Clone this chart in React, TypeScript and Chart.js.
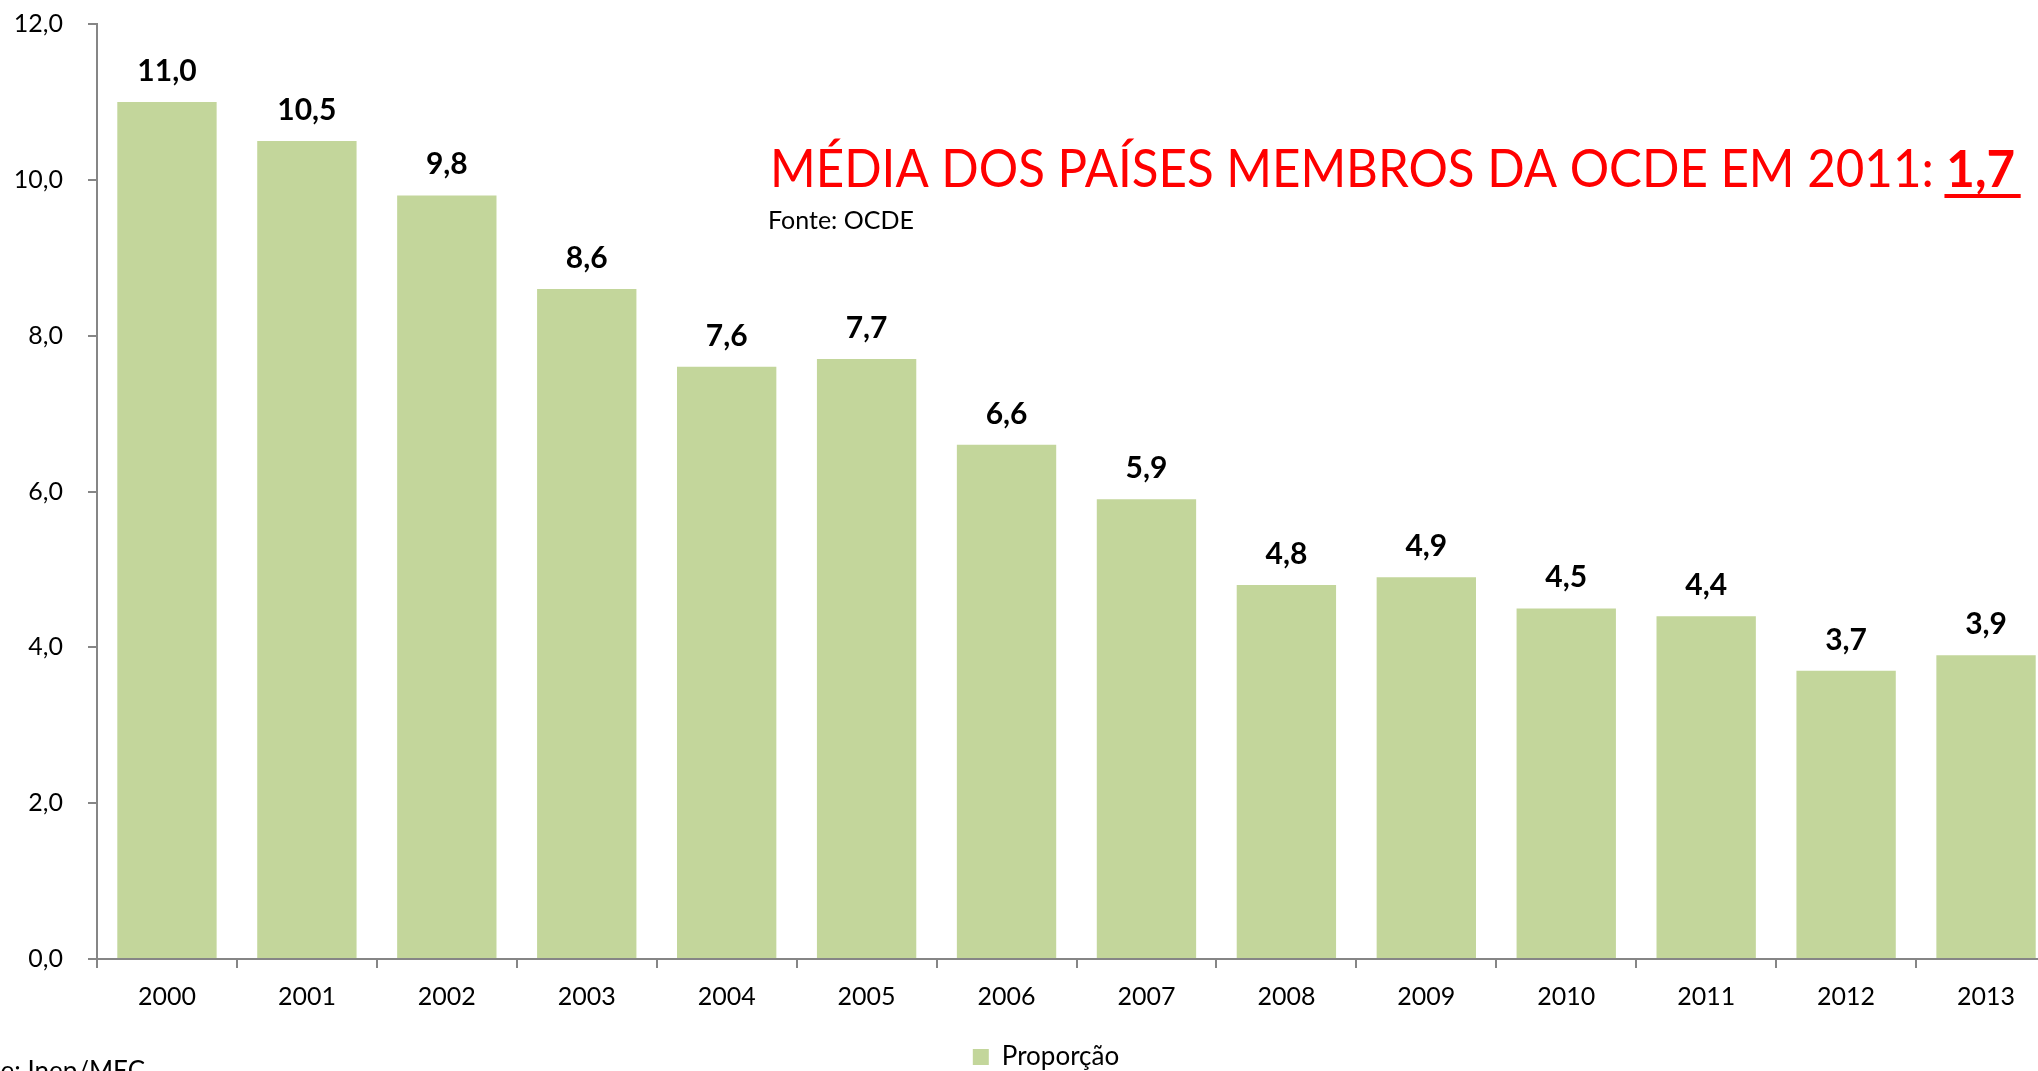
import React, { useEffect, useRef } from 'react';
import { Chart, registerables } from 'chart.js';

Chart.register(...registerables);

const categories = ['2000', '2001', '2002', '2003', '2004', '2005', '2006', '2007', '2008', '2009', '2010', '2011', '2012', '2013'];
const values = [11.0, 10.5, 9.8, 8.6, 7.6, 7.7, 6.6, 5.9, 4.8, 4.9, 4.5, 4.4, 3.7, 3.9];
const seriesLabel = 'Proporção';
const yMin = 0;
const yMax = 12;
const yStep = 2;
const titleMain = 'MÉDIA DOS PAÍSES MEMBROS DA OCDE EM 2011: ';
const titleValue = '1,7';
const titleSource = 'Fonte: OCDE';
const chartSource = 'Fonte: Inep/MEC';

const FONT = 'Lato, "Noto Sans", sans-serif';
const fmt = (v: number) => Number(v).toFixed(1).replace('.', ',');

const barLabelsPlugin = {
  id: 'barLabels',
  afterDatasetsDraw(chart: any) {
    const ctx = chart.ctx;
    const meta = chart.getDatasetMeta(0);
    ctx.save();
    ctx.font = `bold 30px ${FONT}`;
    ctx.fillStyle = '#000';
    ctx.textAlign = 'center';
    ctx.textBaseline = 'alphabetic';
    meta.data.forEach((bar: any, i: number) => {
      ctx.fillText(fmt(values[i]), bar.x, bar.y - 21);
    });
    ctx.restore();
  },
};

const annotationsPlugin = {
  id: 'annotations',
  afterDraw(chart: any) {
    const ctx = chart.ctx;
    ctx.save();
    // Title in red, compressed horizontally to the reference width
    const size = 52;
    const x0 = 770;
    const yb = 187;
    const target = 1245;
    ctx.font = `${size}px ${FONT}`;
    const w1 = ctx.measureText(titleMain).width;
    ctx.font = `bold ${size}px ${FONT}`;
    const w2 = ctx.measureText(titleValue).width;
    const sx = Math.min(1, target / (w1 + w2));
    ctx.save();
    ctx.translate(x0, yb);
    ctx.scale(sx, 1);
    ctx.fillStyle = '#FF0000';
    ctx.textAlign = 'left';
    ctx.textBaseline = 'alphabetic';
    ctx.font = `${size}px ${FONT}`;
    ctx.fillText(titleMain, 0, 0);
    ctx.font = `bold ${size}px ${FONT}`;
    ctx.fillText(titleValue, w1, 0);
    ctx.fillRect(w1 - 2, 7, w2 + 8, 4);
    ctx.restore();

    // Source under title
    ctx.fillStyle = '#000';
    ctx.textAlign = 'left';
    ctx.textBaseline = 'alphabetic';
    ctx.font = `25px ${FONT}`;
    ctx.fillText(titleSource, 768, 229);

    // Source at bottom-left (partly cropped)
    ctx.font = `26px ${FONT}`;
    ctx.textAlign = 'right';
    ctx.fillText(chartSource, 145, 1080);
    ctx.restore();
  },
};

export default function App() {
  const ref = useRef<HTMLCanvasElement | null>(null);

  useEffect(() => {
    if (!ref.current) return;
    const chart = new Chart(ref.current, {
      type: 'bar',
      data: {
        labels: categories,
        datasets: [
          {
            label: seriesLabel,
            data: values,
            backgroundColor: '#C3D69B',
            borderWidth: 0,
            barPercentage: 0.71,
            categoryPercentage: 1,
          },
        ],
      },
      options: {
        responsive: false,
        animation: false,
        layout: { padding: { top: 24, left: 0, right: 0, bottom: 0 } },
        plugins: {
          legend: {
            position: 'bottom',
            labels: {
              font: { family: FONT, size: 26 },
              color: '#000',
              boxWidth: 16,
              boxHeight: 16,
              padding: 10,
            },
          },
          tooltip: { enabled: false },
          title: { display: false },
        },
        scales: {
          x: {
            ticks: { font: { family: FONT, size: 25 }, color: '#000', padding: 14 },
            grid: {
              display: true,
              drawOnChartArea: false,
              drawTicks: true,
              tickLength: 9,
              color: '#868686',
              lineWidth: 2,
              offset: true,
            },
            border: { display: true, color: '#868686', width: 2 },
            afterFit(s: any) {
              s.height = 75;
              s.paddingRight = 36;
            },
          },
          y: {
            min: yMin,
            max: yMax,
            ticks: {
              stepSize: yStep,
              callback: (v: any) => fmt(v),
              font: { family: FONT, size: 25 },
              color: '#000',
              padding: 25,
            },
            grid: {
              display: true,
              drawOnChartArea: false,
              drawTicks: true,
              tickLength: 9,
              color: '#868686',
              lineWidth: 2,
            },
            border: { display: true, color: '#868686', width: 2 },
            afterFit(s: any) {
              s.width = 97;
              s.paddingTop = 0;
              s.paddingBottom = 0;
            },
          },
        },
      },
      plugins: [barLabelsPlugin, annotationsPlugin],
    });
    return () => chart.destroy();
  }, []);

  return (
    <div
      style={{
        position: 'fixed',
        left: 0,
        top: 0,
        width: 2038,
        height: 1071,
        overflow: 'hidden',
        background: '#fff',
      }}
    >
      <canvas ref={ref} width={2092} height={1080} style={{ display: 'block', width: 2092, height: 1080 }} />
    </div>
  );
}
